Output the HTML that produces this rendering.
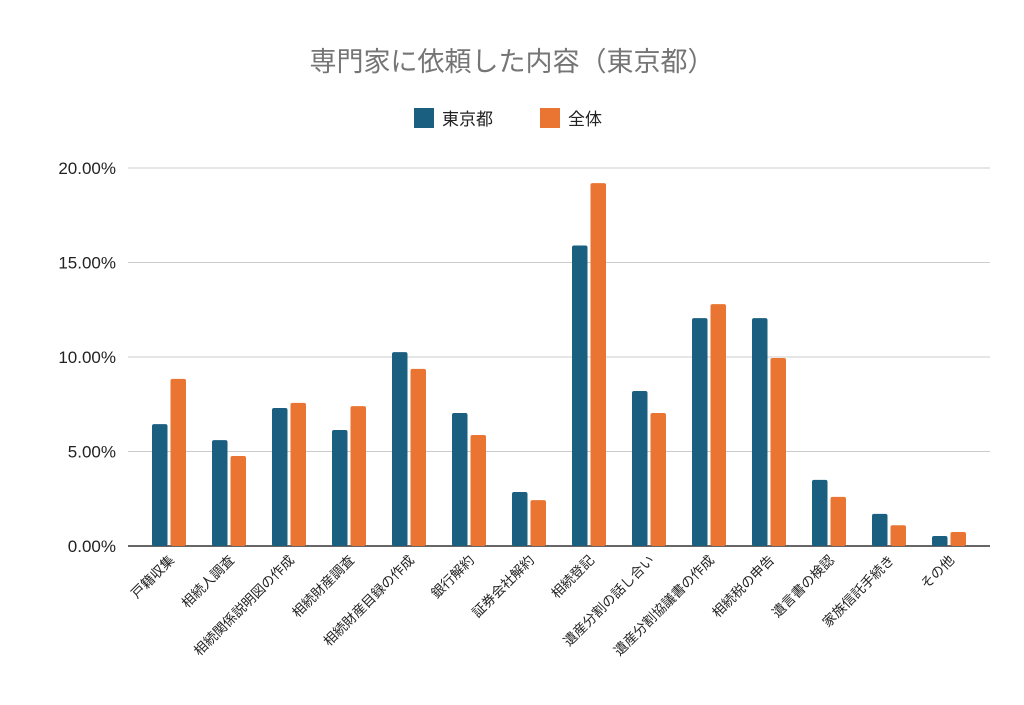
<!DOCTYPE html>
<html><head><meta charset="utf-8"><style>
body{margin:0;background:#fff;}
svg{display:block;font-family:"Liberation Sans","Noto Sans CJK JP",sans-serif;}
</style></head><body>
<svg id="chart" width="1024" height="705">
<text x="512" y="71" text-anchor="middle" font-size="27" fill="#757575">専門家に依頼した内容（東京都）</text>
<g>
<rect x="414" y="108" width="20" height="20" fill="#1a5f80"/>
<text x="442" y="125" font-size="17" fill="#222">東京都</text>
<rect x="540" y="108" width="20" height="20" fill="#ea7532"/>
<text x="568" y="125" font-size="17" fill="#222">全体</text>
</g>
<g id="grid"></g><g id="bars"></g><g id="xlabels"></g>
</svg>
<script>
const categories=["戸籍収集","相続人調査","相続関係説明図の作成","相続財産調査","相続財産目録の作成","銀行解約","証券会社解約","相続登記","遺産分割の話し合い","遺産分割協議書の作成","相続税の申告","遺言書の検認","家族信託手続き","その他"];
const tokyo=[6.45,5.6,7.3,6.14,10.26,7.04,2.86,15.9,8.2,12.06,12.06,3.5,1.7,0.53];
const overall=[8.84,4.76,7.57,7.4,9.37,5.87,2.43,19.2,7.04,12.8,9.95,2.6,1.1,0.74];
const yTicks=[0,5,10,15,20];
const tickLabels=["0.00%","5.00%","10.00%","15.00%","20.00%"];
const NS="http://www.w3.org/2000/svg";
const gx0=128,gx1=990,y0=546,yTop=168,yMax=20;
const y=v=>y0-(v/yMax)*(y0-yTop);
const bw=60,cx0=139;
const xc=i=>cx0+bw*(i+0.5);
function mk(tag,attrs,parent){const e=document.createElementNS(NS,tag);for(const k in attrs)e.setAttribute(k,attrs[k]);parent.appendChild(e);return e;}
const grid=document.getElementById('grid'),bars=document.getElementById('bars'),xl=document.getElementById('xlabels');
yTicks.forEach((t,i)=>{
  const l=mk('line',{x1:gx0,x2:gx1,y1:y(t),y2:y(t),stroke:t===0?'#333':'#ccc','stroke-width':t===0?1.5:1},grid);
  
  
  const tx=mk('text',{x:116,y:y(t)+6,'text-anchor':'end','font-size':17,fill:'#222'},grid);
  tx.textContent=tickLabels[i];
  
  
});
const w=15.5;
categories.forEach((c,i)=>{
  const cx=xc(i);
  const a=mk('rect',{x:cx-w-1.5,y:y(tokyo[i]),width:w,height:y0-y(tokyo[i]),fill:'#1a5f80',rx:2},bars);
  
  
  const b=mk('rect',{x:cx+1.5,y:y(overall[i]),width:w,height:y0-y(overall[i]),fill:'#ea7532',rx:2},bars);
  
  
  const t=mk('text',{x:0,y:0,'text-anchor':'end','font-size':13.5,fill:'#222',transform:`translate(${cx+6},${y0+15}) rotate(-45)`},xl);
  t.textContent=c;
  
  
});
</script>
</body></html>
